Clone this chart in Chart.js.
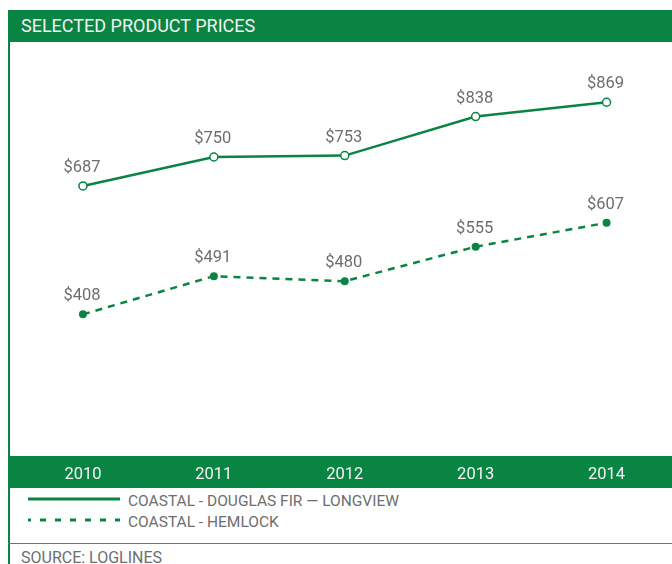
<!DOCTYPE html>
<html>
<head>
<meta charset="utf-8">
<script src="https://cdn.jsdelivr.net/npm/chart.js@4.4.1/dist/chart.umd.min.js"></script>
<style>
  html, body { margin: 0; padding: 0; background: #fff; }
  body { width: 672px; height: 564px; position: relative; overflow: hidden; font-family: Roboto, "Liberation Sans", sans-serif; }
  #frame { position: absolute; left: 8px; top: 10px; width: 2px; bottom: 0; background: #0a8443; }
  #header { position: absolute; left: 8px; top: 10px; width: 664px; height: 32px; background: #0a8443; color: #f2f2f2; font-size: 18px; line-height: 32px; padding-left: 13px; box-sizing: border-box; }
  #wrap { position: absolute; left: 10px; top: 42px; width: 662px; height: 446px; }
  #legend { position: absolute; left: 28px; top: 490px; }
  .row { height: 21px; display: flex; align-items: center; color: #6d6e70; font-size: 15.5px; }
  .row svg { position: relative; top: -2px; margin-right: 8px; }
  #rule { position: absolute; left: 8px; top: 543px; width: 664px; height: 1px; background: #2f9a5c; }
  #source { position: absolute; left: 21px; top: 547px; color: #6d6e70; font-size: 16px; line-height: 21px; }
</style>
</head>
<body>
<div id="frame"></div>
<div id="header">SELECTED PRODUCT PRICES</div>
<div id="wrap"><canvas id="chart"></canvas></div>
<div id="legend"></div>
<div id="rule"></div>
<div id="source">SOURCE: LOGLINES</div>
<script>
const years = ["2010", "2011", "2012", "2013", "2014"];
const douglasFir = [687, 750, 753, 838, 869];
const hemlock = [408, 491, 480, 555, 607];
const seriesNames = ["COASTAL - DOUGLAS FIR \u2014 LONGVIEW", "COASTAL - HEMLOCK"];

const green = "#0a8443";
const gray = "#6d6e70";

Chart.defaults.font.family = "Roboto, 'Liberation Sans', sans-serif";

// green band behind the year labels
const axisBand = {
  id: "axisBand",
  beforeDraw(chart) {
    const x = chart.scales.x;
    const ctx = chart.ctx;
    ctx.save();
    ctx.fillStyle = green;
    ctx.fillRect(0, x.top, chart.width, x.bottom - x.top);
    ctx.restore();
  },
};

// "$687" style value labels above each point
const valueLabels = {
  id: "valueLabels",
  afterDatasetsDraw(chart) {
    const ctx = chart.ctx;
    ctx.save();
    ctx.font = "16.5px Roboto, 'Liberation Sans', sans-serif";
    ctx.fillStyle = gray;
    ctx.textAlign = "center";
    ctx.textBaseline = "alphabetic";
    chart.data.datasets.forEach((ds, i) => {
      chart.getDatasetMeta(i).data.forEach((pt, j) => {
        ctx.fillText("$" + ds.data[j], pt.x - 1, pt.y - 14);
      });
    });
    ctx.restore();
  },
};

const chart = new Chart(document.getElementById("chart"), {
  type: "line",
  data: {
    labels: years,
    datasets: [
      {
        label: seriesNames[0],
        data: douglasFir,
        borderColor: green,
        borderWidth: 2.5,
        pointRadius: 4,
        pointBorderWidth: 1.5,
        pointBackgroundColor: "#fff",
        pointBorderColor: green,
        tension: 0,
      },
      {
        label: seriesNames[1],
        data: hemlock,
        borderColor: green,
        borderWidth: 2.5,
        borderDash: [7, 6],
        pointRadius: 4,
        pointBorderWidth: 0,
        pointBackgroundColor: green,
        pointBorderColor: green,
        tension: 0,
      },
    ],
  },
  options: {
    responsive: true,
    maintainAspectRatio: false,
    animation: false,
    clip: false,
    layout: { autoPadding: false, padding: { left: 7.5, right: -1.5, top: 0, bottom: 0 } },
    plugins: { legend: { display: false }, tooltip: { enabled: false } },
    scales: {
      x: {
        type: "category",
        offset: true,
        grid: { display: false, drawTicks: false },
        border: { display: false },
        ticks: { color: "#f4f4f4", font: { size: 16.5 }, padding: 9, maxRotation: 0 },
        afterFit(scale) { scale.height = 32; },
      },
      y: {
        display: false,
        min: 100,
        max: 1000,
      },
    },
  },
  plugins: [axisBand, valueLabels],
});

// legend rows
const legendDash = [null, "6 9"];
const legend = document.getElementById("legend");
seriesNames.forEach((name, i) => {
  const row = document.createElement("div");
  row.className = "row";
  const dash = legendDash[i] ? ` stroke-dasharray="${legendDash[i]}" stroke-dashoffset="3"` : "";
  row.innerHTML = `<svg width="92" height="6"><line x1="0" y1="3" x2="92" y2="3" stroke="${green}" stroke-width="3"${dash}/></svg><span>${name}</span>`;
  legend.appendChild(row);
});
</script>
</body>
</html>
